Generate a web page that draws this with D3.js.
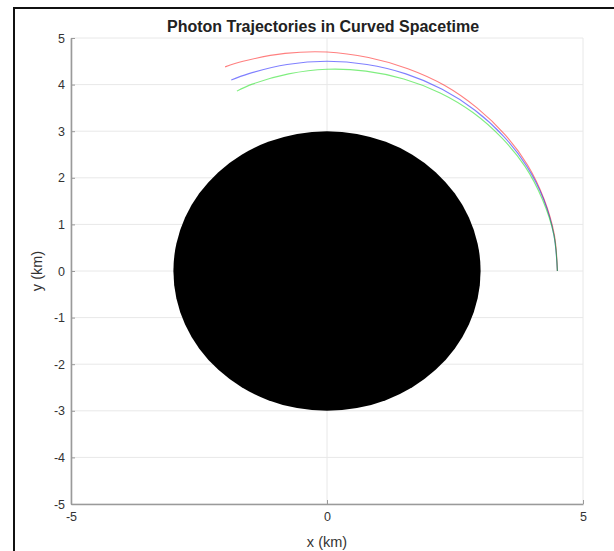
<!DOCTYPE html>
<html>
<head>
<meta charset="utf-8">
<script src="https://cdn.jsdelivr.net/npm/d3@7"></script>
<style>
  body { margin: 0; background: #fff; }
  svg { display: block; font-family: "Liberation Sans", Arial, sans-serif; }
</style>
</head>
<body>
<div id="chart"></div>
<script>
// photon paths (km)
var redX   = [4.50, 4.44, 4.24, 3.92, 3.48, 2.93, 2.30, 1.58, 0.81, 0.00, -0.82, -1.64, -1.99];
var redY   = [0.00, 0.78, 1.54, 2.27, 2.92, 3.50, 3.98, 4.34, 4.58, 4.70, 4.67, 4.50, 4.38];
var blueX  = [4.50, 4.43, 4.23, 3.90, 3.45, 2.89, 2.25, 1.54, 0.78, 0.00, -0.78, -1.54, -1.87];
var blueY  = [0.00, 0.78, 1.54, 2.25, 2.89, 3.45, 3.90, 4.23, 4.43, 4.50, 4.43, 4.23, 4.10];
var greenX = [4.50, 4.43, 4.21, 3.87, 3.41, 2.85, 2.21, 1.50, 0.76, 0.00, -0.75, -1.46, -1.76];
var greenY = [0.00, 0.78, 1.53, 2.24, 2.86, 3.40, 3.82, 4.12, 4.29, 4.33, 4.23, 4.01, 3.86];

var holeRadius = 3;
var xTicks = [-5, 0, 5];
var yTicks = [-5, -4, -3, -2, -1, 0, 1, 2, 3, 4, 5];

var W = 614, H = 551;
var margin = { left: 71, right: 31, top: 38, bottom: 47 };
var w = W - margin.left - margin.right;
var h = H - margin.top - margin.bottom;

var svg = d3.select("#chart").append("svg")
    .attr("width", W)
    .attr("height", H);

// outer frame
svg.append("rect")
    .attr("x", 14).attr("y", 8)
    .attr("width", 640).attr("height", 600)
    .attr("fill", "none")
    .attr("stroke", "#111")
    .attr("stroke-width", 2);

var g = svg.append("g")
    .attr("transform", "translate(" + margin.left + "," + margin.top + ")");

var xScale = d3.scaleLinear().domain([-5, 5]).range([0, w]);
var yScale = d3.scaleLinear().domain([-5, 5]).range([h, 0]);

// grid
g.selectAll(".gy").data(yTicks).enter().append("line")
    .attr("x1", 0).attr("x2", w)
    .attr("y1", function(d) { return yScale(d); })
    .attr("y2", function(d) { return yScale(d); })
    .attr("stroke", "#e8e8e8").attr("stroke-width", 1);
g.selectAll(".gx").data(xTicks).enter().append("line")
    .attr("y1", 0).attr("y2", h)
    .attr("x1", function(d) { return xScale(d); })
    .attr("x2", function(d) { return xScale(d); })
    .attr("stroke", "#e8e8e8").attr("stroke-width", 1);

// black hole
g.append("ellipse")
    .attr("cx", xScale(0)).attr("cy", yScale(0))
    .attr("rx", xScale(holeRadius) - xScale(0))
    .attr("ry", yScale(0) - yScale(holeRadius))
    .attr("fill", "#000");

// trajectories
var line = d3.line()
    .x(function(d) { return xScale(d[0]); })
    .y(function(d) { return yScale(d[1]); })
    .curve(d3.curveCatmullRom);

var paths = [
    { xs: redX, ys: redY, color: "#ff0000" },
    { xs: blueX, ys: blueY, color: "#0000ff" },
    { xs: greenX, ys: greenY, color: "#00dd00" }
];
paths.forEach(function(p) {
    var pts = p.xs.map(function(x, i) { return [x, p.ys[i]]; });
    g.append("path")
        .attr("d", line(pts))
        .attr("fill", "none")
        .attr("stroke", p.color)
        .attr("stroke-opacity", 0.5)
        .attr("stroke-width", 1.1);
});

// axes
var fmt = function(d) { return String(d); }; // plain hyphen minus
var xAxis = d3.axisBottom(xScale).tickValues(xTicks).tickFormat(fmt).tickSizeInner(-4).tickSizeOuter(0).tickPadding(8);
var yAxis = d3.axisLeft(yScale).tickValues(yTicks).tickFormat(fmt).tickSizeInner(-4).tickSizeOuter(0).tickPadding(6);

var xg = g.append("g").attr("transform", "translate(0," + h + ")").call(xAxis);
var yg = g.append("g").call(yAxis);

[xg, yg].forEach(function(a) {
    a.select(".domain").attr("stroke", "#9a9a9a").attr("stroke-width", 1.6);
    a.selectAll(".tick line").attr("stroke", "#9a9a9a");
    a.selectAll("text")
        .attr("font-size", 12.5)
        .attr("fill", "#333")
        .attr("font-family", "Liberation Sans, Arial, sans-serif");
});

// labels
svg.append("text")
    .attr("x", 323).attr("y", 32)
    .attr("text-anchor", "middle")
    .attr("font-size", 16)
    .attr("font-weight", "bold")
    .attr("fill", "#222")
    .text("Photon Trajectories in Curved Spacetime");

svg.append("text")
    .attr("x", margin.left + w / 2).attr("y", 547)
    .attr("text-anchor", "middle")
    .attr("font-size", 14.5)
    .attr("fill", "#333")
    .text("x (km)");

svg.append("text")
    .attr("transform", "translate(42," + (margin.top + h / 2) + ") rotate(-90)")
    .attr("text-anchor", "middle")
    .attr("font-size", 14.5)
    .attr("fill", "#333")
    .text("y (km)");
</script>
</body>
</html>
